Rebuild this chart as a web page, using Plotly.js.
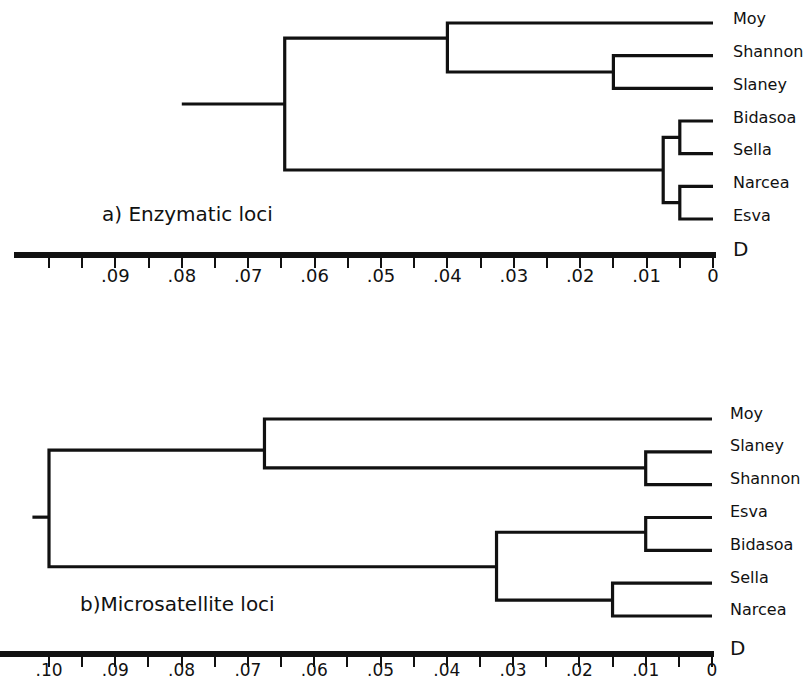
<!DOCTYPE html>
<html>
<head>
<meta charset="utf-8">
<script src="https://cdn.plot.ly/plotly-3.0.1.min.js"></script>
<style>html,body{margin:0;padding:0;background:#fff;}</style>
</head>
<body>
<div id="chart" style="width:809px;height:682px;"></div>
<script>
// ---------- DATA ----------
// a) Enzymatic loci
const topLeaves = ["Moy", "Shannon", "Slaney", "Bidasoa", "Sella", "Narcea", "Esva"];
// merges: node index = leaves.length + merge index
const topMergeA   = [1, 3, 5, 0, 8, 10];
const topMergeB   = [2, 4, 6, 7, 9, 11];
const topMergeD   = [0.015, 0.005, 0.005, 0.04, 0.0075, 0.0645];
const topMergeRow = [1.5, 3.5, 5.5, 0.46, 4.5, 2.48];
const topRootStemD = 0.08;

// b) Microsatellite loci
const botLeaves = ["Moy", "Slaney", "Shannon", "Esva", "Bidasoa", "Sella", "Narcea"];
const botMergeA   = [1, 3, 5, 0, 8, 10];
const botMergeB   = [2, 4, 6, 7, 9, 11];
const botMergeD   = [0.01, 0.01, 0.015, 0.0675, 0.0325, 0.10];
const botMergeRow = [1.49, 3.45, 5.52, 0.95, 4.5, 2.99];
const botRootStemD = 0.1025;

// axis ticks
const tickVals   = [0.10, 0.095, 0.09, 0.085, 0.08, 0.075, 0.07, 0.065, 0.06, 0.055, 0.05, 0.045, 0.04, 0.035, 0.03, 0.025, 0.02, 0.015, 0.01, 0.005, 0];
const topTickText = ["", "", ".09", "", ".08", "", ".07", "", ".06", "", ".05", "", ".04", "", ".03", "", ".02", "", ".01", "", "0"];
const botTickText = [".10", "", ".09", "", ".08", "", ".07", "", ".06", "", ".05", "", ".04", "", ".03", "", ".02", "", ".01", "", "0"];
const axisName = "D";
const topTitle = "a) Enzymatic loci";
const botTitle = "b)Microsatellite loci";

// ---------- LAYOUT GEOMETRY (pixels) ----------
const W = 809, H = 682;
const TOP = {x0: 14, x1: 716, zeroPx: 713, pxPerUnit: 6640, yTop: 0, yBot: 252, row0: 23, rowH: 32.67, labelX: 731, tickSize: 18, standoff: -8};
const BOT = {x0: 0, x1: 714, zeroPx: 712, pxPerUnit: 6630, yTop: 380, yBot: 651, row0: 419, rowH: 32.83, labelX: 728, tickSize: 17, standoff: -11};

// ---------- BUILD ----------
function treeTrace(leaves, A, B, D, R, stemD, xa, ya) {
  const n = leaves.length;
  const nodeD = [], nodeRow = [];
  leaves.forEach((l, i) => { nodeD[i] = 0; nodeRow[i] = i; });
  D.forEach((d, k) => { nodeD[n + k] = d; nodeRow[n + k] = R[k]; });
  const xs = [], ys = [];
  for (let k = 0; k < D.length; k++) {
    const a = A[k], b = B[k], d = D[k];
    xs.push(nodeD[a], d, d, nodeD[b], null);
    ys.push(nodeRow[a], nodeRow[a], nodeRow[b], nodeRow[b], null);
  }
  const root = n + D.length - 1;
  xs.push(stemD, nodeD[root], null);
  ys.push(nodeRow[root], nodeRow[root], null);
  return {
    type: "scatter", mode: "lines", x: xs, y: ys, xaxis: xa, yaxis: ya,
    line: {color: "#111", width: 3.2}, hoverinfo: "skip", showlegend: false, cliponaxis: false
  };
}

const traces = [
  treeTrace(topLeaves, topMergeA, topMergeB, topMergeD, topMergeRow, topRootStemD, "x", "y"),
  treeTrace(botLeaves, botMergeA, botMergeB, botMergeD, botMergeRow, botRootStemD, "x2", "y2")
];

const leafFont = {family: "DejaVu Sans", size: 16, color: "#111"};
const annotations = [];
function leafLabels(leaves, G, shift) {
  leaves.forEach((l, i) => annotations.push({
    text: l, x: G.labelX / W, y: 1 - (G.row0 + i * G.rowH - shift) / H,
    xref: "paper", yref: "paper", xanchor: "left", yanchor: "middle",
    showarrow: false, font: leafFont
  }));
}
leafLabels(topLeaves, TOP, 4);
leafLabels(botLeaves, BOT, 6);

const bigFont = {family: "DejaVu Sans", size: 20, color: "#111"};
annotations.push({text: axisName, x: 740 / W, y: 1 - 249 / H, xref: "paper", yref: "paper",
  xanchor: "center", yanchor: "middle", showarrow: false, font: bigFont});
annotations.push({text: axisName, x: 737 / W, y: 1 - 648 / H, xref: "paper", yref: "paper",
  xanchor: "center", yanchor: "middle", showarrow: false, font: bigFont});
annotations.push({text: topTitle, x: 100 / W, y: 1 - 214 / H, xref: "paper", yref: "paper",
  xanchor: "left", yanchor: "middle", showarrow: false, font: bigFont});
annotations.push({text: botTitle, x: 78 / W, y: 1 - 604 / H, xref: "paper", yref: "paper",
  xanchor: "left", yanchor: "middle", showarrow: false, font: bigFont});

function xAxis(G, ticktext, anchor) {
  return {
    domain: [G.x0 / W, G.x1 / W],
    range: [(G.zeroPx - G.x0) / G.pxPerUnit, (G.zeroPx - G.x1) / G.pxPerUnit],
    anchor: anchor,
    showline: true, linewidth: 6, linecolor: "#111", mirror: false,
    ticks: "outside", ticklen: 10, tickwidth: 2, tickcolor: "#111",
    tickmode: "array", tickvals: tickVals, ticktext: ticktext,
    tickfont: {family: "DejaVu Sans", size: G.tickSize, color: "#111"},
    ticklabelstandoff: G.standoff,
    showgrid: false, zeroline: false, automargin: false, fixedrange: true
  };
}
function yAxis(G, anchor) {
  return {
    domain: [1 - G.yBot / H, 1 - G.yTop / H],
    range: [(G.yBot - G.row0) / G.rowH, (G.yTop - G.row0) / G.rowH],
    anchor: anchor, visible: false,
    showgrid: false, zeroline: false, automargin: false, fixedrange: true
  };
}

const layout = {
  width: W, height: H,
  margin: {l: 0, r: 0, t: 0, b: 0},
  paper_bgcolor: "#fff", plot_bgcolor: "rgba(0,0,0,0)",
  showlegend: false,
  xaxis: xAxis(TOP, topTickText, "y"),
  yaxis: yAxis(TOP, "x"),
  xaxis2: xAxis(BOT, botTickText, "y2"),
  yaxis2: yAxis(BOT, "x2"),
  annotations: annotations
};

Plotly.newPlot("chart", traces, layout, {displayModeBar: false, staticPlot: true});
</script>
</body>
</html>
